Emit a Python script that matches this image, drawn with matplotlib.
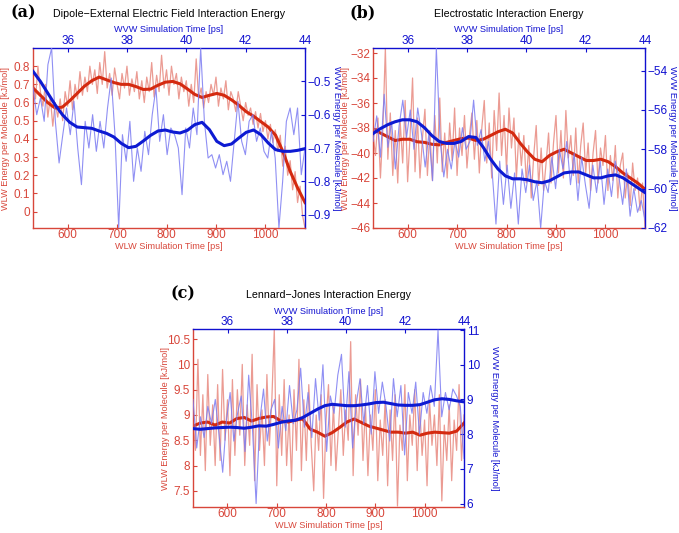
import numpy as np
import matplotlib
matplotlib.use("Agg")
import matplotlib.pyplot as plt
from matplotlib.ticker import FuncFormatter

plt.rcParams['font.family'] = ['Liberation Sans', 'DejaVu Sans']

W, H = 679, 533

# time ranges of the two simulations
WLW_T = (530, 1080)
WVW_T = (34.83, 44.0)

# (a) dipole - external field
a_red_noisy = [0.72, 0.62, 0.80, 0.66, 0.58, 0.70, 0.52, 0.63, 0.47, 0.60, 0.52,
               0.62, 0.50, 0.66, 0.58, 0.72, 0.56, 0.70, 0.62, 0.77, 0.64,
               0.74, 0.66, 0.80, 0.70, 0.78, 0.65, 0.82, 0.70, 0.88, 0.68,
               0.76, 0.64, 0.79, 0.70, 0.62, 0.76, 0.68, 0.80, 0.64, 0.73,
               0.66, 0.77, 0.62, 0.72, 0.60, 0.74, 0.66, 0.82, 0.63, 0.75,
               0.66, 0.86, 0.68, 0.78, 0.64, 0.80, 0.70, 0.76, 0.62, 0.74,
               0.66, 0.72, 0.58, 0.70, 0.60, 0.84, 0.62, 0.68, 0.57, 0.66,
               0.60, 0.70, 0.64, 0.74, 0.58, 0.68, 0.62, 0.72, 0.56, 0.66,
               0.62, 0.55, 0.66, 0.58, 0.50, 0.60, 0.53, 0.57, 0.48, 0.55,
               0.46, 0.54, 0.44, 0.50, 0.40, 0.48, 0.38, 0.45, 0.33, 0.42,
               0.25, 0.36, 0.20, 0.28, 0.12, 0.22, 0.05, 0.14, -0.02, -0.09]
a_red_smooth = [0.68, 0.64, 0.60, 0.57, 0.575, 0.61, 0.65, 0.69, 0.72, 0.74,
                0.725, 0.71, 0.70, 0.70, 0.688, 0.672, 0.674, 0.695, 0.712, 0.716,
                0.703, 0.675, 0.645, 0.628, 0.640, 0.650, 0.640, 0.615, 0.585, 0.550,
                0.525, 0.495, 0.465, 0.420, 0.330, 0.220, 0.130, 0.050]
a_blue_noisy = [-0.52, -0.60, -0.55, -0.62, -0.45, -0.40, -0.62, -0.745, -0.66, -0.58,
                -0.66, -0.56, -0.70, -0.81, -0.62, -0.70, -0.60, -0.71, -0.62, -0.70,
                -0.58, -0.49, -0.66, -0.94, -0.66, -0.74, -0.62, -0.80, -0.70, -0.77,
                -0.65, -0.72, -0.60, -0.52, -0.68, -0.60, -0.72, -0.64, -0.66, -0.70,
                -0.84, -0.64, -0.70, -0.58, -0.66, -0.40, -0.62, -0.73, -0.72, -0.76,
                -0.72, -0.78, -0.74, -0.80, -0.68, -0.56, -0.68, -0.72, -0.62, -0.60,
                -0.68, -0.64, -0.71, -0.73, -0.65, -0.73, -0.94, -0.80, -0.62, -0.58,
                -0.66, -0.58, -0.78, -0.70]
a_blue_smooth = [-0.47, -0.50, -0.535, -0.57, -0.60, -0.623, -0.637, -0.639, -0.641, -0.649,
                 -0.656, -0.667, -0.686, -0.699, -0.695, -0.679, -0.662, -0.649, -0.646, -0.652,
                 -0.655, -0.647, -0.630, -0.623, -0.645, -0.680, -0.693, -0.688, -0.670, -0.653,
                 -0.646, -0.660, -0.685, -0.705, -0.710, -0.710, -0.707, -0.702]

# (b) electrostatic
b_red_noisy = [-38.5, -40.2, -37.2, -42.0, -38.0, -31.6, -40.5, -36.8, -41.8, -38.2, -42.4,
               -37.5, -40.8, -35.8, -42.3, -38.6, -34.0, -41.5, -37.2, -42.0, -38.8,
               -36.5, -41.8, -38.2, -42.2, -37.0, -40.8, -35.6, -41.5, -38.4, -42.0,
               -37.6, -40.6, -36.4, -41.8, -38.0, -40.2, -37.0, -41.2, -38.6, -36.8,
               -40.5, -37.4, -41.6, -38.0, -35.8, -40.8, -37.6, -42.0, -36.6, -39.8,
               -35.2, -40.2, -37.0, -41.4, -36.4, -39.6, -37.2, -42.0, -38.4, -41.0,
               -38.6, -42.4, -39.4, -43.6, -40.2, -37.8, -42.6, -39.6, -43.0, -40.8,
               -38.4, -42.4, -39.2, -37.0, -41.6, -38.2, -42.0, -36.6, -40.4, -38.6,
               -41.8, -38.0, -42.4, -39.4, -37.6, -41.6, -39.2, -43.0, -40.0, -38.2,
               -42.4, -39.6, -41.0, -38.6, -43.0, -40.2, -42.2, -39.4, -43.6, -41.0,
               -40.0, -43.6, -41.6, -44.2, -40.8, -43.0, -42.0, -44.6, -42.4, -46.0]
b_red_smooth = [-38.1, -38.4, -38.7, -39.0, -38.9, -38.9, -39.1, -39.15, -39.3, -39.35,
                -39.15, -39.0, -38.85, -38.8, -39.0, -38.9, -38.6, -38.3, -38.1, -38.4,
                -39.2, -39.9, -40.5, -40.7, -40.2, -39.9, -39.7, -40.0, -40.3, -40.6,
                -40.6, -40.5, -40.7, -41.1, -41.6, -42.0, -42.4, -42.9]
b_blue_noisy = [-57.6, -56.3, -58.4, -55.2, -57.9, -56.6, -59.0, -56.8, -55.5, -57.4,
                -56.0, -58.0, -55.9, -57.2, -58.9, -57.2, -59.6, -52.85, -57.5, -59.4,
                -58.0, -59.0, -57.6, -58.4, -56.9, -58.0, -57.6, -55.5, -57.8, -57.0,
                -58.6, -57.6, -59.2, -61.8, -58.6, -60.8, -58.8, -61.0, -59.2, -61.8,
                -59.0, -60.2, -58.8, -60.6, -59.6, -62.0, -59.6, -60.2, -58.4, -60.0,
                -58.0, -59.0, -57.6, -59.8, -58.2, -60.6, -58.4, -59.8, -61.0, -58.8,
                -60.2, -58.6, -60.8, -59.0, -60.4, -58.6, -59.4, -60.8, -59.0, -61.4,
                -60.0, -61.2, -60.6, -61.6]
b_blue_smooth = [-57.2, -56.95, -56.75, -56.6, -56.5, -56.5, -56.6, -56.9, -57.3, -57.6,
                 -57.7, -57.7, -57.6, -57.35, -57.4, -57.9, -58.5, -59.0, -59.35, -59.5,
                 -59.5, -59.55, -59.65, -59.7, -59.6, -59.4, -59.2, -59.15, -59.15, -59.3,
                 -59.45, -59.45, -59.35, -59.3, -59.45, -59.7, -59.95, -60.2]

# (c) Lennard-Jones
c_red_noisy = [8.9, 8.3, 10.1, 8.2, 9.4, 7.9, 9.8, 8.4, 9.2, 8.0, 9.6,
               8.1, 9.9, 8.5, 9.3, 7.8, 9.7, 8.2, 9.5, 8.6, 10.0,
               8.0, 9.2, 8.4, 10.2, 7.7, 9.6, 8.3, 9.1, 8.0, 9.8,
               8.4, 9.3, 10.7, 7.6, 9.4, 8.2, 9.7, 8.0, 9.0, 7.7,
               9.5, 8.3, 10.1, 7.9, 9.3, 8.1, 9.6, 8.4, 7.5, 9.0,
               8.3, 9.4, 7.35, 8.9, 9.6, 8.0, 9.2, 7.9, 8.7, 9.5,
               8.2, 9.1, 8.5, 10.45, 7.8, 9.4, 8.6, 9.7, 8.1, 9.2,
               7.8, 9.0, 8.3, 9.5, 7.7, 8.9, 8.2, 9.3, 7.6, 9.1,
               8.1, 9.4, 7.2, 8.8, 8.3, 9.6, 7.7, 9.0, 8.4, 9.5,
               7.9, 9.2, 8.2, 8.9, 7.6, 9.3, 8.4, 9.0, 8.0, 9.4,
               7.3, 8.8, 8.1, 9.2, 7.7, 8.9, 8.3, 9.6, 8.1, 9.0]
c_red_smooth = [8.78, 8.84, 8.86, 8.80, 8.86, 8.84, 8.93, 8.95, 8.88, 8.93,
                8.96, 8.97, 8.88, 8.86, 8.90, 8.92, 8.72, 8.66, 8.58, 8.65,
                8.75, 8.86, 8.92, 8.85, 8.78, 8.74, 8.70, 8.66, 8.66, 8.64,
                8.66, 8.60, 8.64, 8.66, 8.65, 8.64, 8.68, 8.84]
c_blue_noisy = [9.0, 7.6, 8.5, 7.9, 8.8, 8.3, 9.0, 8.0, 6.9, 8.4,
                9.2, 7.8, 8.6, 9.1, 7.5, 9.7, 8.2, 6.0, 8.4, 9.3,
                7.8, 8.7, 9.0, 7.6, 8.8, 8.1, 9.4, 8.3, 8.7, 9.9,
                8.2, 9.2, 7.9, 9.6, 8.4, 10.0, 7.5, 9.1, 8.6, 9.7,
                10.3, 8.2, 9.8, 7.6, 8.9, 9.6, 8.3, 9.4, 8.0, 9.8,
                8.6, 9.5, 8.8, 7.8, 9.6, 8.5, 9.4, 7.4, 9.2, 8.6,
                9.5, 8.0, 9.2, 8.6, 9.4, 8.8, 11.0, 8.5, 9.2, 8.7,
                9.3, 9.1, 8.8, 7.3]
c_blue_smooth = [8.16, 8.14, 8.16, 8.18, 8.19, 8.20, 8.19, 8.17, 8.20, 8.24,
                 8.23, 8.28, 8.34, 8.38, 8.40, 8.48, 8.60, 8.72, 8.82, 8.86,
                 8.84, 8.82, 8.82, 8.84, 8.87, 8.91, 8.92, 8.88, 8.84, 8.83,
                 8.83, 8.85, 8.92, 8.99, 9.02, 9.00, 8.96, 8.93]

RED_AX = '#d8463a'
RED_THIN = '#e88a80'
RED_THICK = '#d42a10'
BLUE_AX = '#1010d0'
BLUE_THIN = '#7c7cf2'
BLUE_THICK = '#0d1ad2'

fmt = FuncFormatter(lambda v, p: f"{v:g}".replace('-', '\u2212'))


def px(x, y):
    return x / W, 1 - y / H


def panel(fig, box, tag, title, red_n, red_s, blue_n, blue_s,
          red_lim, red_ticks, blue_lim, blue_ticks):
    l, t, r, b = box
    rect = [l / W, 1 - b / H, (r - l) / W, (b - t) / H]
    ax = fig.add_axes(rect)
    ax2 = fig.add_axes(rect, frameon=False)

    ax.plot(np.linspace(*WLW_T, len(red_n)), red_n, color=RED_THIN, lw=0.9, alpha=0.85)
    ax.plot(np.linspace(*WLW_T, len(red_s)), red_s, color=RED_THICK, lw=2.2)
    ax2.plot(np.linspace(*WVW_T, len(blue_n)), blue_n, color=BLUE_THIN, lw=0.8, alpha=0.85)
    ax2.plot(np.linspace(*WVW_T, len(blue_s)), blue_s, color=BLUE_THICK, lw=2.2)

    ax.set_xlim(*WLW_T)
    ax.set_ylim(*red_lim)
    ax.set_xticks([600, 700, 800, 900, 1000])
    ax.set_yticks(red_ticks)
    ax2.set_xlim(*WVW_T)
    ax2.set_ylim(*blue_lim)
    ax2.set_xticks([36, 38, 40, 42, 44])
    ax2.set_yticks(blue_ticks)
    ax2.xaxis.tick_top()
    ax2.yaxis.tick_right()

    for a in (ax, ax2):
        a.xaxis.set_major_formatter(fmt)
        a.yaxis.set_major_formatter(fmt)
    ax.tick_params(direction='in', length=3, width=0.8, colors=RED_AX, labelsize=8.5, pad=2)
    ax.tick_params(axis='x', pad=1)
    ax2.tick_params(direction='in', length=3, width=0.8, colors=BLUE_AX, labelsize=8.5, pad=2)
    ax2.tick_params(axis='x', pad=0.5)

    ax.spines['left'].set_color(RED_AX)
    ax.spines['bottom'].set_color(RED_AX)
    ax.spines['top'].set_color(BLUE_AX)
    ax.spines['right'].set_color(BLUE_AX)
    for s in ax.spines.values():
        s.set_linewidth(1.0)

    cx = (l + r) / 2
    cy = (t + b) / 2
    fig.text(*px(l - 10, t - 35), tag, fontsize=11.5, fontweight='bold',
             family='DejaVu Serif', ha='center', va='center')
    fig.text(*px(cx, t - 34), title, fontsize=7.7, ha='center', va='center')
    fig.text(*px(cx, t - 18), 'WVW Simulation Time [ps]', fontsize=6.6,
             color=BLUE_AX, ha='center', va='center')
    fig.text(*px(cx, b + 18.5), 'WLW Simulation Time [ps]', fontsize=6.6,
             color=RED_AX, ha='center', va='center')
    fig.text(*px(l - 27, cy), 'WLW Energy per Molecule [kJ/mol]', fontsize=6.6,
             color=RED_AX, rotation=90, ha='center', va='center')
    fig.text(*px(min(r + 31, W - 7), cy), 'WVW Energy per Molecule [kJ/mol]', fontsize=6.6,
             color=BLUE_AX, rotation=270, ha='center', va='center')


fig = plt.figure(figsize=(W / 100, H / 100), dpi=100)

panel(fig, (33, 48, 305, 228), '(a)', 'Dipole\u2212External Electric Field Interaction Energy',
      a_red_noisy, a_red_smooth, a_blue_noisy, a_blue_smooth,
      (-0.09, 0.9), [0, 0.1, 0.2, 0.3, 0.4, 0.5, 0.6, 0.7, 0.8],
      (-0.94, -0.40), [-0.9, -0.8, -0.7, -0.6, -0.5])
panel(fig, (373, 48, 645, 228), '(b)', 'Electrostatic Interaction Energy',
      b_red_noisy, b_red_smooth, b_blue_noisy, b_blue_smooth,
      (-46, -31.6), [-46, -44, -42, -40, -38, -36, -34, -32],
      (-62, -52.85), [-62, -60, -58, -56, -54])
panel(fig, (193, 329, 464, 507), '(c)', 'Lennard\u2212Jones Interaction Energy',
      c_red_noisy, c_red_smooth, c_blue_noisy, c_blue_smooth,
      (7.18, 10.7), [7.5, 8, 8.5, 9, 9.5, 10, 10.5],
      (5.9, 11.03), [6, 7, 8, 9, 10, 11])

fig.savefig('out.png', dpi=100)
